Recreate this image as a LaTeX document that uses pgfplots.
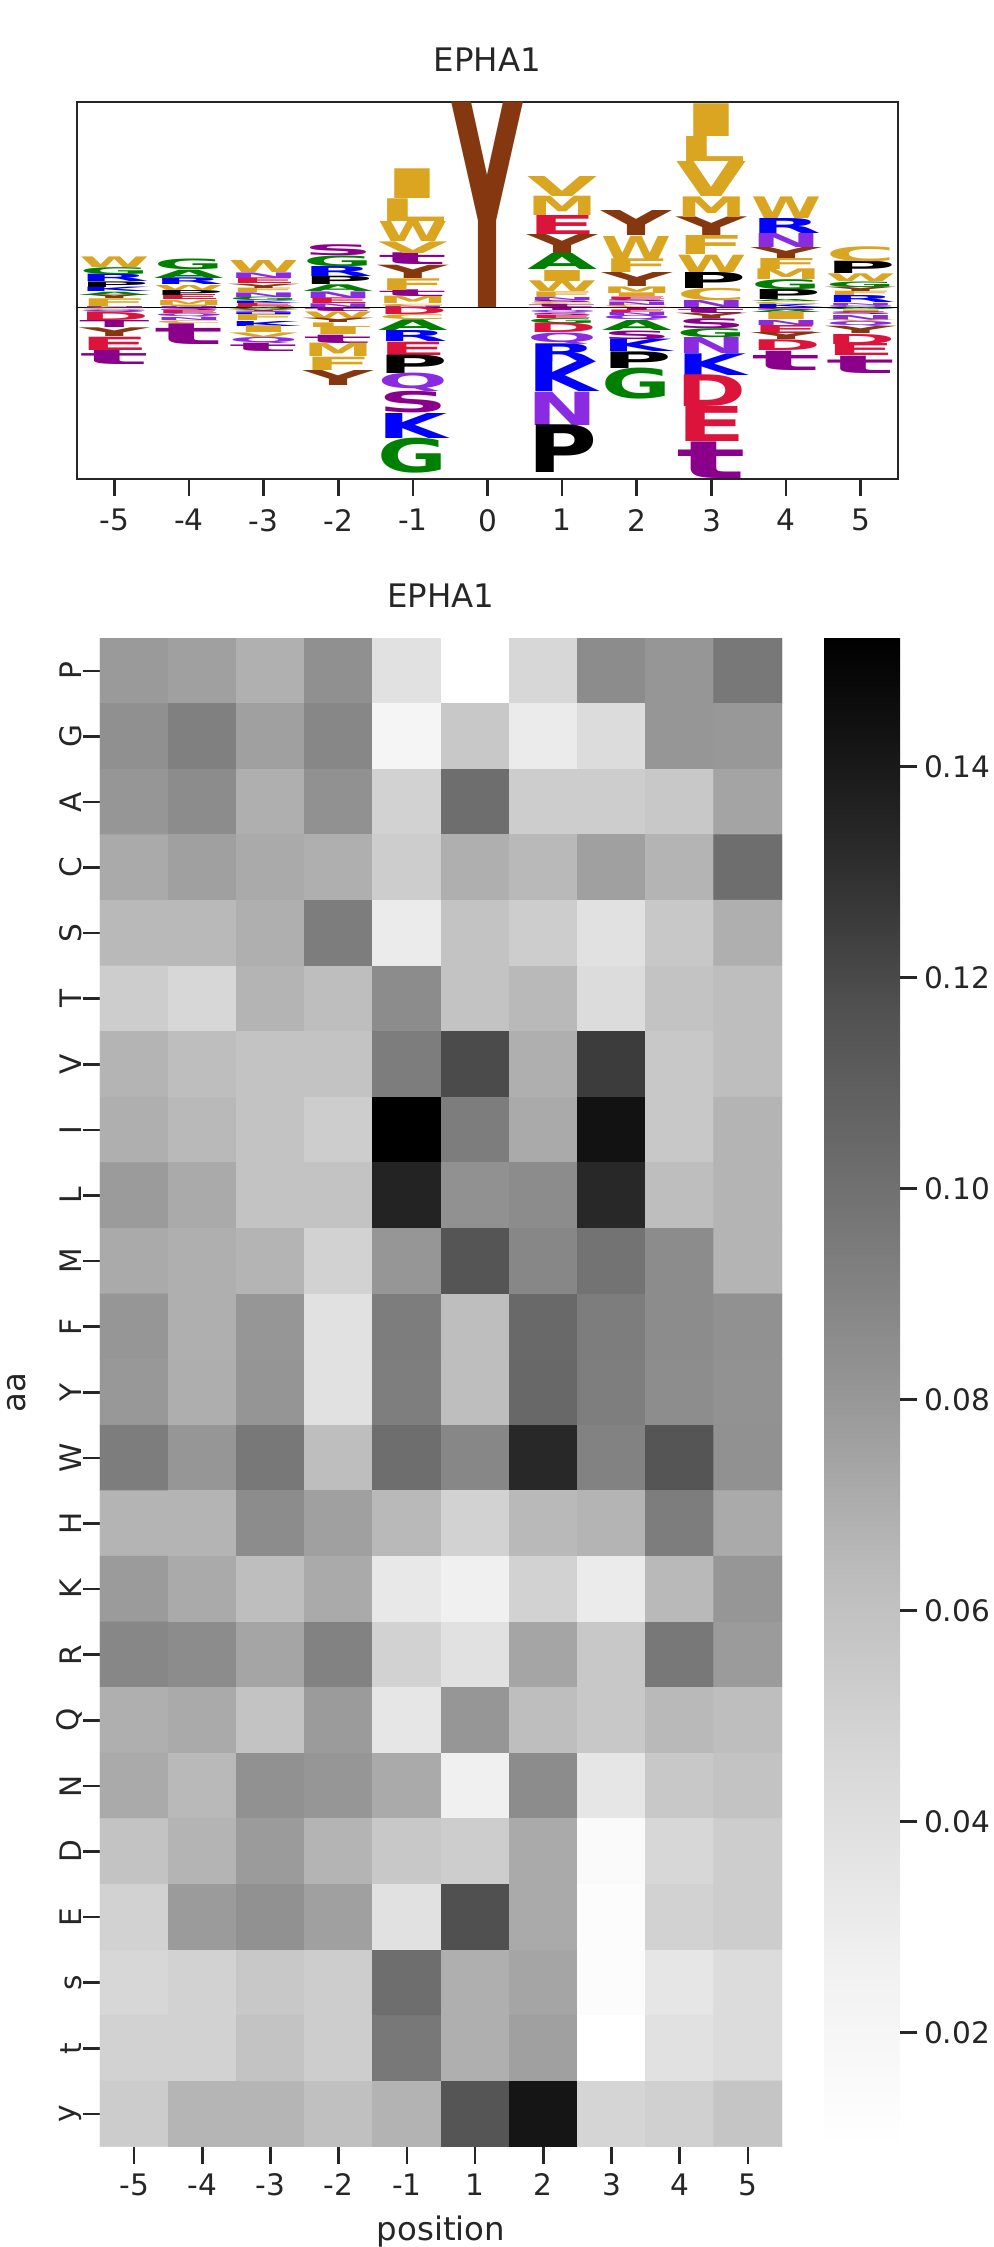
\documentclass[border=0pt]{standalone}
\usepackage{fontspec}
\setmainfont{DejaVu Sans}
\usepackage{graphicx}
\usepackage{pgfplots}
\usepackage{pgfplotstable}
\pgfplotsset{compat=1.18}

\definecolor{fg}{RGB}{38,38,38}
% letter colours
\definecolor{lW}{RGB}{218,165,32}
\definecolor{lF}{RGB}{218,165,32}
\definecolor{lM}{RGB}{218,165,32}
\definecolor{lL}{RGB}{218,165,32}
\definecolor{lV}{RGB}{218,165,32}
\definecolor{lI}{RGB}{218,165,32}
\definecolor{lC}{RGB}{218,165,32}
\definecolor{lY}{RGB}{133,55,15}
\definecolor{ly}{RGB}{133,55,15}
\definecolor{lA}{RGB}{0,128,0}
\definecolor{lG}{RGB}{0,128,0}
\definecolor{lR}{RGB}{0,0,255}
\definecolor{lK}{RGB}{0,0,255}
\definecolor{lH}{RGB}{0,0,255}
\definecolor{lP}{RGB}{0,0,0}
\definecolor{lD}{RGB}{220,20,60}
\definecolor{lE}{RGB}{220,20,60}
\definecolor{lN}{RGB}{138,43,226}
\definecolor{lQ}{RGB}{138,43,226}
\definecolor{lS}{RGB}{139,0,139}
\definecolor{lT}{RGB}{139,0,139}
\definecolor{ls}{RGB}{139,0,139}
\definecolor{lt}{RGB}{139,0,139}

\pgfplotsset{colormap={Greys}{rgb255=(255,255,255) rgb255=(240,240,240)
  rgb255=(217,217,217) rgb255=(189,189,189) rgb255=(150,150,150)
  rgb255=(115,115,115) rgb255=(82,82,82) rgb255=(37,37,37) rgb255=(0,0,0)}}

% logo: position, bottom of letter, letter height (axis units), letter
\pgfplotstableread{
x y h L
-5 0 1 N
-5 1 7.7 F
-5 8.7 4 Y
-5 12.7 3.3 A
-5 16 4.4 K
-5 20.4 5.6 P
-5 26 7.4 R
-5 33.4 7 G
-5 40.4 10.6 W
-5 -1.8 1.8 C
-5 -3.8 2 Q
-5 -5.3 1.5 S
-5 -13.3 8 D
-5 -20.3 7 T
-5 -29 8.7 Y
-5 -42.3 13.3 E
-5 -56.3 14 t
-4 0 1.2 N
-4 1.2 1.5 I
-4 2.7 5 M
-4 7.7 5 E
-4 12.7 5 P
-4 17.7 5 W
-4 22.7 6.7 R
-4 29.4 8.3 A
-4 37.7 10.7 G
-4 -3.3 3.3 S
-4 -6.3 3 E
-4 -9.8 3.5 Q
-4 -12.8 3 N
-4 -15.6 2.8 C
-4 -36.3 20.7 t
-3 0 1 D
-3 1 3.4 E
-3 4.4 2.5 K
-3 6.9 3.5 G
-3 10.4 4.6 N
-3 15 4.4 F
-3 19.4 4.3 Y
-3 23.7 5.7 E
-3 29.4 5.6 N
-3 35 12 W
-3 -2 2 A
-3 -4 2 Y
-3 -5.5 1.5 S
-3 -7.3 1.8 H
-3 -13.3 6 F
-3 -18.3 5 K
-3 -25 6.7 I
-3 -29.6 4.6 V
-3 -35.6 6 Q
-3 -44 8.4 t
-2 0 3.7 N
-2 3.7 5.7 E
-2 9.4 6.6 N
-2 16 6.7 A
-2 22.7 8.3 P
-2 31 10 R
-2 41 10.7 G
-2 51.7 11 S
-2 -4 4 t
-2 -10.6 6.6 W
-2 -15 4.4 Y
-2 -19.6 4.6 L
-2 -27.3 7.7 I
-2 -35.6 8.3 t
-2 -49 13.4 M
-2 -62.3 13.3 F
-2 -77.3 15 Y
-1 0 1.5 N
-1 1.5 2.2 C
-1 3.7 7.3 M
-1 11 6.7 t
-1 17.7 11.7 F
-1 29.4 13.3 Y
-1 42.7 11.7 t
-1 54.4 11.6 V
-1 66 20 W
-1 86 22.7 L
-1 108.7 29.7 I
-1 -7.3 7.3 D
-1 -12.3 5 C
-1 -23 10.7 A
-1 -34 11 R
-1 -47.3 13.3 E
-1 -65.6 18.3 P
-1 -84 18.4 Q
-1 -105.6 21.6 S
-1 -130.6 25 K
-1 -165.6 35 G
0 0 205.5 Y
1 0 3.2 t
1 3.2 2 C
1 5.2 2.2 S
1 7.4 3 N
1 10.4 5.6 F
1 16 10.7 W
1 26.7 11 I
1 37.7 16 A
1 53.7 19 Y
1 72.7 19 E
1 91.7 19.3 M
1 111 20 V
1 -2.6 2.6 T
1 -5.1 2.5 Q
1 -7.6 2.5 S
1 -10.6 3 E
1 -15.6 5 G
1 -25 9.4 D
1 -36.3 11.3 Q
1 -54 17.7 R
1 -84 30 K
1 -117.3 33.3 N
1 -165 47.7 P
2 0 2.7 C
2 2.7 3.5 N
2 6.2 2 S
2 8.2 2.5 E
2 10.7 3.7 I
2 14.4 6.6 M
2 21 14 Y
2 35 13.7 F
2 48.7 23 W
2 71.7 25 Y
2 -2.5 2.5 T
2 -5 2.5 E
2 -8 3 N
2 -13 5 Q
2 -23 10 A
2 -31.6 8.6 S
2 -44 12.4 K
2 -60.6 16.6 P
2 -91.6 31 G
3 0 7 N
3 7 12.4 C
3 19.4 16 P
3 35.4 17.3 W
3 52.7 19 F
3 71.7 18.7 Y
3 90.4 20.6 M
3 111 35 V
3 146 25 L
3 171 32.7 I
3 -5.3 5.3 t
3 -10.6 5.3 Y
3 -20.6 10 S
3 -29.6 9 G
3 -45.6 16 N
3 -67.3 21.7 K
3 -99 31.7 D
3 -134 35 E
3 -170.6 36.6 t
4 0 3.2 K
4 3.2 2.5 C
4 5.7 2 A
4 7.7 10 P
4 17.7 10 G
4 27.7 10.7 M
4 38.4 11 F
4 49.4 11 Y
4 60.4 14 N
4 74.4 15 R
4 89.4 21.6 W
4 -2.6 2.6 S
4 -5.3 2.7 A
4 -12.3 7 I
4 -17.3 5 N
4 -25.3 8 E
4 -32.3 7 Y
4 -43 10.7 D
4 -62.3 19.3 t
5 0 2.5 Q
5 2.5 2.2 N
5 4.7 7 R
5 11.7 4.3 F
5 16 4.4 Y
5 20.4 5.6 G
5 26 7.7 W
5 33.7 12.3 P
5 46 15 C
5 -2 2 A
5 -4.5 2.5 I
5 -7.3 2.8 S
5 -12.3 5 N
5 -14.3 2 V
5 -19 4.7 Q
5 -26.3 7.3 Y
5 -36.3 10 D
5 -48.3 12 E
5 -65.6 17.3 t
}\logodata

% heatmap: column index (position -5..-1,1..5), row index (y at 0 ... P at 22), value
\pgfplotstableread{
x y c
0 22 0.0789
1 22 0.0761
2 22 0.0688
3 22 0.0838
4 22 0.0387
5 22 0.0092
6 22 0.0462
7 22 0.0858
8 22 0.0807
9 22 0.0960
0 21 0.0838
1 21 0.0919
2 21 0.0761
3 21 0.0884
4 21 0.0211
5 21 0.0558
6 21 0.0310
7 21 0.0426
8 21 0.0807
9 21 0.0798
0 20 0.0807
1 20 0.0858
2 20 0.0692
3 20 0.0833
4 20 0.0494
5 20 0.1013
6 20 0.0526
7 20 0.0526
8 20 0.0558
9 20 0.0743
0 19 0.0715
1 19 0.0761
2 19 0.0715
3 19 0.0692
4 19 0.0526
5 19 0.0692
6 19 0.0647
7 19 0.0761
8 19 0.0669
9 19 0.1013
0 18 0.0647
1 18 0.0647
2 18 0.0692
3 18 0.0935
4 18 0.0310
5 18 0.0590
6 18 0.0526
7 18 0.0387
8 18 0.0558
9 18 0.0692
0 17 0.0526
1 17 0.0462
2 17 0.0669
3 17 0.0622
4 17 0.0858
5 17 0.0590
6 17 0.0647
7 17 0.0426
8 17 0.0590
9 17 0.0622
0 16 0.0669
1 16 0.0622
2 16 0.0590
3 16 0.0590
4 16 0.0935
5 16 0.1192
6 16 0.0692
7 16 0.1252
8 16 0.0558
9 16 0.0622
0 15 0.0692
1 15 0.0647
2 15 0.0590
3 15 0.0526
4 15 0.1522
5 15 0.0935
6 15 0.0715
7 15 0.1435
8 15 0.0558
9 15 0.0669
0 14 0.0784
1 14 0.0715
2 14 0.0590
3 14 0.0590
4 14 0.1353
5 14 0.0833
6 14 0.0858
7 14 0.1331
8 14 0.0622
9 14 0.0669
0 13 0.0715
1 13 0.0692
2 13 0.0669
3 13 0.0494
4 13 0.0807
5 13 0.1148
6 13 0.0884
7 13 0.0986
8 13 0.0858
9 13 0.0669
0 12 0.0807
1 12 0.0692
2 12 0.0807
3 12 0.0387
4 12 0.0935
5 12 0.0622
6 12 0.1040
7 12 0.0935
8 12 0.0858
9 12 0.0833
0 11 0.0800
1 11 0.0695
2 11 0.0810
3 11 0.0390
4 11 0.0930
5 11 0.0625
6 11 0.1045
7 11 0.0930
8 11 0.0855
9 11 0.0830
0 10 0.0935
1 10 0.0807
2 10 0.0960
3 10 0.0622
4 10 0.1013
5 10 0.0884
6 10 0.1331
7 10 0.0909
8 10 0.1148
9 10 0.0833
0 9 0.0669
1 9 0.0669
2 9 0.0858
3 9 0.0761
4 9 0.0647
5 9 0.0494
6 9 0.0647
7 9 0.0669
8 9 0.0935
9 9 0.0715
0 8 0.0784
1 8 0.0715
2 8 0.0622
3 8 0.0715
4 8 0.0333
5 8 0.0271
6 8 0.0494
7 8 0.0310
8 8 0.0647
9 8 0.0807
0 7 0.0884
1 7 0.0858
2 7 0.0738
3 7 0.0909
4 7 0.0494
5 7 0.0387
6 7 0.0738
7 7 0.0558
8 7 0.0960
9 7 0.0784
0 6 0.0692
1 6 0.0715
2 6 0.0590
3 6 0.0784
4 6 0.0348
5 6 0.0807
6 6 0.0622
7 6 0.0558
8 6 0.0647
9 6 0.0622
0 5 0.0715
1 5 0.0647
2 5 0.0833
3 5 0.0807
4 5 0.0715
5 5 0.0271
6 5 0.0858
7 5 0.0348
8 5 0.0558
9 5 0.0590
0 4 0.0590
1 4 0.0669
2 4 0.0784
3 4 0.0669
4 4 0.0558
5 4 0.0526
6 4 0.0715
7 4 0.0152
8 4 0.0462
9 4 0.0526
0 3 0.0494
1 3 0.0784
2 3 0.0833
3 3 0.0761
4 3 0.0387
5 3 0.1173
6 3 0.0715
7 3 0.0128
8 3 0.0494
9 3 0.0526
0 2 0.0462
1 2 0.0494
2 2 0.0558
3 2 0.0526
4 2 0.1013
5 2 0.0692
6 2 0.0738
7 2 0.0128
8 2 0.0348
9 2 0.0426
0 1 0.0494
1 1 0.0494
2 1 0.0590
3 1 0.0526
4 1 0.0960
5 1 0.0692
6 1 0.0761
7 1 0.0092
8 1 0.0387
9 1 0.0426
0 0 0.0532
1 0 0.0665
2 0 0.0665
3 0 0.0609
4 0 0.0674
5 0 0.1148
6 0 0.1420
7 0 0.0475
8 0 0.0507
9 0 0.0577
}\heatdata

\newcommand{\tickfont}{\fontsize{14.8}{17}\selectfont}
\newcommand{\labfont}{\fontsize{16.2}{19}\selectfont}

\begin{document}
\begin{tikzpicture}
\path[use as bounding box] (0,0) rectangle (496.5pt,-1123.5pt);

% sequence logo
\begin{axis}[
  at={(38.5pt,-51pt)}, anchor=north west,
  scale only axis, width=410.5pt, height=188.5pt,
  xmin=-5.5, xmax=5.5, ymin=-171.3, ymax=205.7,
  xtick={-5,...,5},
  xticklabels={-5,-4,-3,-2,-1,0,1,2,3,4,5},
  xticklabel shift=3pt,
  ytick=\empty,
  tick pos=left, tick align=outside,
  major tick length=8.5pt,
  tick style={fg, line width=1.3pt},
  axis line style={fg, line width=1.35pt},
  tick label style={font=\tickfont, text=fg},
  title={EPHA1},
  title style={at={(0.5,1)}, anchor=center, yshift=15pt, font=\labfont, text=fg},
]
\addplot[draw=none, mark=none, point meta=explicit symbolic,
  visualization depends on={\thisrow{h} \as \hh},
  nodes near coords={\pgfmathparse{0.5*\hh}\color{l\pgfplotspointmeta}\resizebox*{35pt}{\pgfmathresult pt}{\bfseries\pgfplotspointmeta}},
  every node near coord/.style={anchor=south, inner sep=0pt, outer sep=0pt},
] table[x=x, y=y, meta=L] {\logodata};
\addplot[black, line width=0.4pt] coordinates {(-5.5,0) (5.5,0)};
\end{axis}

% heatmap
\begin{axis}[
  at={(50pt,-319pt)}, anchor=north west,
  scale only axis, width=341pt, height=754.35pt,
  xmin=-0.5, xmax=9.5, ymin=-0.5, ymax=22.5,
  xtick={0,...,9},
  xticklabels={-5,-4,-3,-2,-1,1,2,3,4,5},
  xticklabel shift=1.5pt,
  ytick={0,...,22},
  yticklabels={y,t,s,E,D,N,Q,R,K,H,W,Y,F,M,L,I,V,T,S,C,A,G,P},
  yticklabel style={xshift=3pt, rotate=90, anchor=south},
  tick pos=left, tick align=outside,
  major tick length=8.5pt,
  tick style={fg, line width=1.3pt},
  axis line style={draw=none},
  tick label style={font=\tickfont, text=fg},
  title={EPHA1},
  title style={at={(0.5,1)}, anchor=center, yshift=15pt, font=\labfont, text=fg},
  xlabel={position},
  xlabel style={at={(axis description cs:0.5,-0.0563)}, anchor=center, font=\labfont, text=fg},
  ylabel={aa},
  ylabel style={at={(axis description cs:-0.1217,0.5)}, anchor=center, font=\labfont, text=fg},
  colormap name=Greys,
  point meta min=0.0092, point meta max=0.1522,
  colorbar,
  colorbar/width=38pt,
  colorbar shift/.style={xshift=21pt},
  colorbar style={
    at={(parent axis.north east)}, anchor=north west,
    scale only axis, height=754.35pt,
    ytick={0.02,0.04,0.06,0.08,0.10,0.12,0.14},
    yticklabels={0.02,0.04,0.06,0.08,0.10,0.12,0.14},
    ytick pos=right, yticklabel pos=right,
    tick align=outside, major tick length=8.5pt,
    tick style={fg, line width=1.3pt},
    axis line style={draw=none},
    yticklabel style={font=\tickfont, text=fg},
  },
]
\addplot[matrix plot*, mesh/cols=10, point meta=explicit]
  table[x=x, y=y, meta=c] {\heatdata};
\end{axis}
\end{tikzpicture}
\end{document}
